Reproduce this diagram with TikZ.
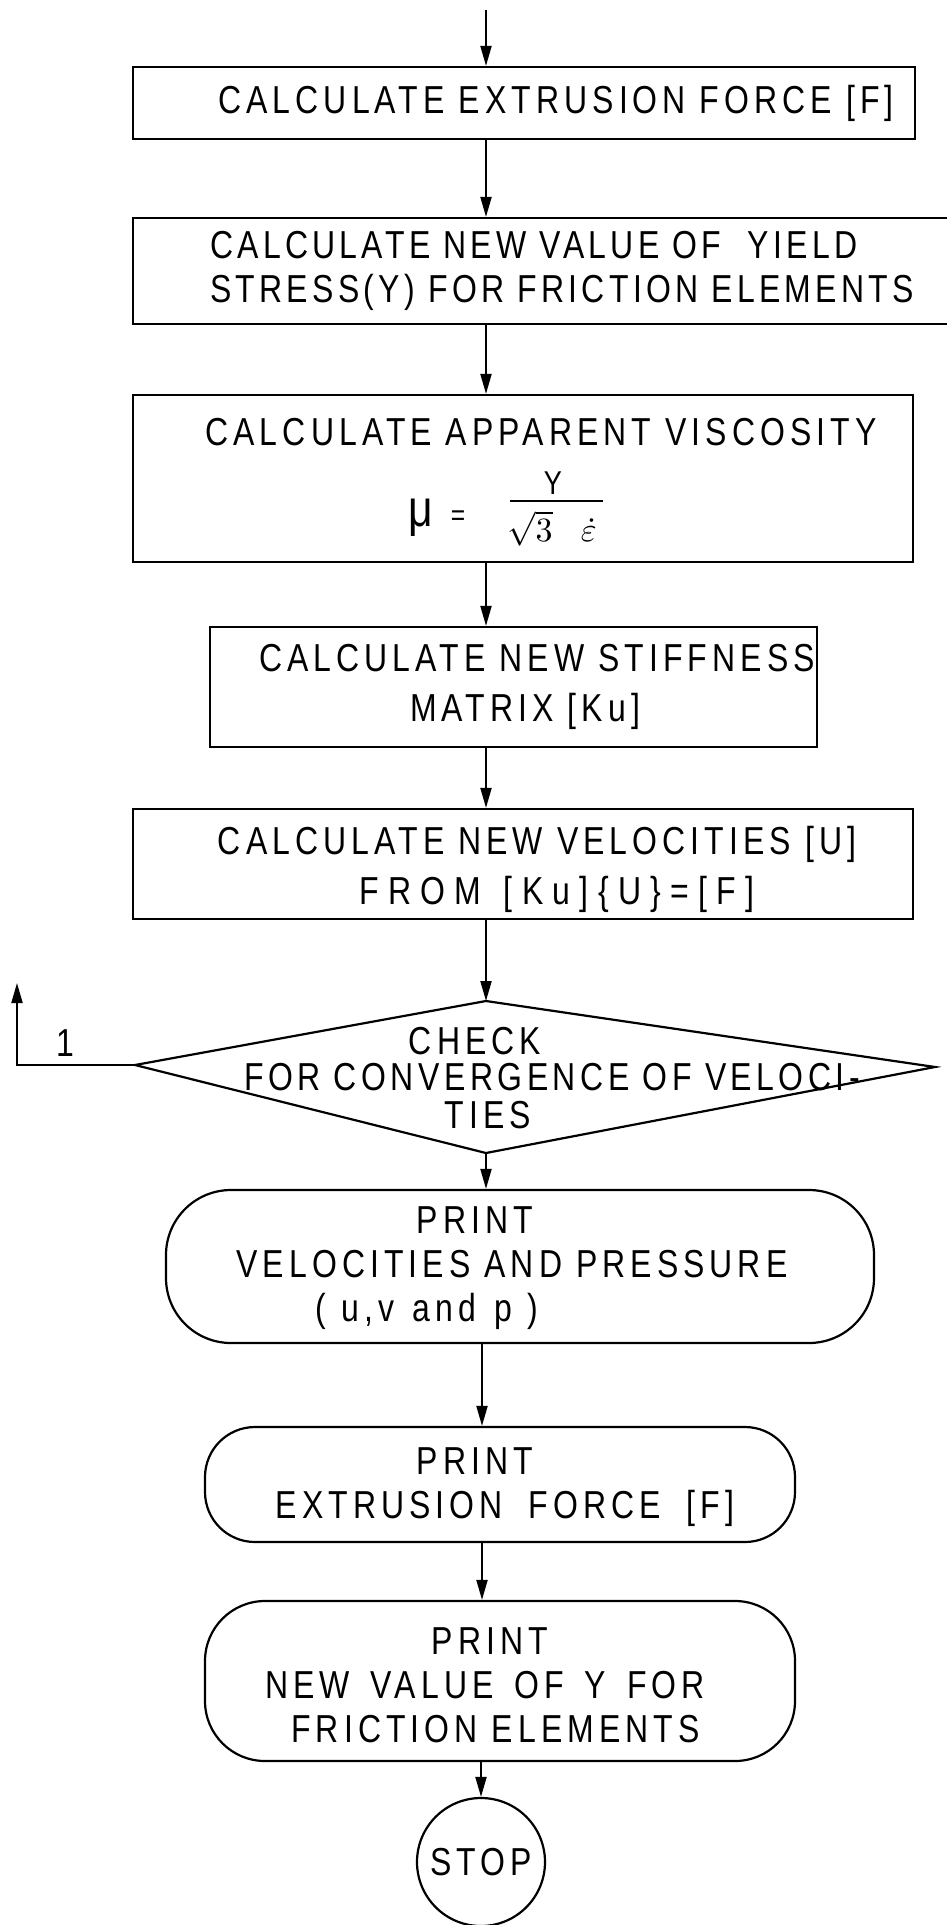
\documentclass[tikz,border=0pt]{standalone}
\usepackage{fontspec}
\usepackage{amsmath}
\usepackage{graphicx}
\setmainfont{Liberation Sans}[FakeStretch=0.82,LetterSpace=13]
\usetikzlibrary{arrows.meta,shapes.geometric}
\begin{document}
\begin{tikzpicture}[x=1pt,y=-1pt,
  every path/.style={line width=2.2pt},
  boxnode/.style={draw, rectangle, inner sep=0pt},
  termnode/.style={draw, rectangle, inner sep=0pt},
  txt/.style={inner sep=0pt, align=center, font=\fontsize{39}{44}\selectfont},
  txtw/.style={inner sep=0pt, align=center, font=\fontsize{39}{50}\selectfont},
  txtl/.style={inner sep=0pt, align=left, font=\fontsize{39}{44}\selectfont},
  flow/.style={-{Triangle[length=20pt,width=11pt]}, line width=2pt}]
\useasboundingbox (0,0) rectangle (946,1925);
\fill[white] (0,0) rectangle (946,1925);

\coordinate (cx) at (486,0);
\coordinate (cy) at (482,0);
\coordinate (start) at (486,10);

% boxes
\node[boxnode, minimum width=782pt, minimum height=72pt] (b1) at (524,103) {};
\node[txt] (b1t) at (556,103) {CALCULATE EXTRUSION FORCE [F]};

\node[boxnode, minimum width=822pt, minimum height=106pt] (b2) at (544,271) {};
\node[txtl, anchor=west] (b2t) at (209,271) {\addfontfeature{LetterSpace=11}CALCULATE NEW VALUE OF\ \ YIELD\\\addfontfeature{LetterSpace=11}STRESS(Y) FOR FRICTION ELEMENTS};

\node[boxnode, minimum width=780pt, minimum height=167pt] (b3) at (523,478.5) {};
\node[txt] (b3t) at (541,432) {CALCULATE APPARENT VISCOSITY};
\node[inner sep=0pt, font=\fontsize{52}{52}\selectfont] (mu) at (421,518) {μ};
\node[inner sep=0pt, font=\fontsize{30}{30}\selectfont] (eq) at (458,518) {=};
\node[inner sep=0pt, anchor=base, font=\fontsize{33}{33}\selectfont] (num) at (553,494) {Y};
\coordinate (barl) at (510,501);
\coordinate (barr) at (603,501);
\draw (barl) -- (barr);
\node[inner sep=0pt, anchor=north] (den) at (552,510) {\scalebox{3.4}{$\sqrt{3}\;\;\;\dot{\varepsilon}$}};

\node[boxnode, minimum width=607pt, minimum height=120pt] (b4) at (513.5,687) {};
\node[txtw] (b4t) at (537,687) {CALCULATE NEW STIFFNESS\\\hspace*{-24pt}MATRIX [Ku]};

\node[boxnode, minimum width=780pt, minimum height=110pt] (b5) at (523,864) {};
\node[txtw] (b5t) at (537,869) {CALCULATE NEW VELOCITIES [U]\\\hspace*{40pt}\addfontfeature{LetterSpace=24}FROM\ \hspace{4pt}[Ku]\{U\}=[F]};

% decision
\coordinate (dT) at (486,1001);
\coordinate (dR) at (935,1067);
\coordinate (dB) at (486,1153);
\coordinate (dL) at (135,1065);
\draw (dT) -- (dR) -- (dB) -- (dL) -- cycle;
\node[txt] (d1) at (475,1041) {CHECK};
\node[txt] (d2) at (552,1077) {\addfontfeature{LetterSpace=11.5}FOR CONVERGENCE OF VELOCI-};
\node[txt] (d3) at (488,1115) {TIES};
\coordinate (lc) at (17,1065);
\coordinate (le) at (17,983);
\node[txt] (one) at (65,1043) {1};

% terminals
\node[termnode, rounded corners=65pt, minimum width=708pt, minimum height=153pt] (t1) at (520,1266.5) {};
\node[txt] (t1t) at (512,1268) {\hspace*{-74pt}PRINT\\VELOCITIES AND PRESSURE\\\hspace*{-170pt}(\ \hspace{2pt}u,v\ \hspace{4pt}and\ \hspace{4pt}p\ \hspace{2pt})};

\node[termnode, rounded corners=50pt, minimum width=590pt, minimum height=115pt] (t2) at (500,1484.5) {};
\node[txt] (t2t) at (505,1487) {\hspace*{-60pt}PRINT\\EXTRUSION\ \hspace{12pt}FORCE\ \hspace{12pt}[F]};

\node[termnode, rounded corners=60pt, minimum width=590pt, minimum height=160pt] (t3) at (500,1681) {};
\node[txt] (t3t) at (490,1685) {PRINT\\\hspace*{-10pt}NEW\ \hspace{7pt}VALUE\ \hspace{7pt}OF\ \hspace{7pt}Y\ \hspace{7pt}FOR\\\hspace*{11pt}FRICTION ELEMENTS};

\node[draw, circle, minimum size=128pt, inner sep=0pt] (stop) at (481,1862) {};
\node[txt] (stopt) at (481,1862) {STOP};

% connectors
\draw[flow] (start) -- (b1.north -| cx);
\draw[flow] (b1.south -| cx) -- (b2.north -| cx);
\draw[flow] (b2.south -| cx) -- (b3.north -| cx);
\draw[flow] (b3.south -| cx) -- (b4.north -| cx);
\draw[flow] (b4.south -| cx) -- (b5.north -| cx);
\draw[flow] (b5.south -| cx) -- (dT);
\draw[flow] (dB) -- (t1.north -| cx);
\draw[flow] (dL) -- (lc) -- (le);
\draw[flow] (t1.south -| cy) -- (t2.north -| cy);
\draw[flow] (t2.south -| cy) -- (t3.north -| cy);
\draw[flow] (t3.south -| stop) -- (stop.north);
\end{tikzpicture}
\end{document}
